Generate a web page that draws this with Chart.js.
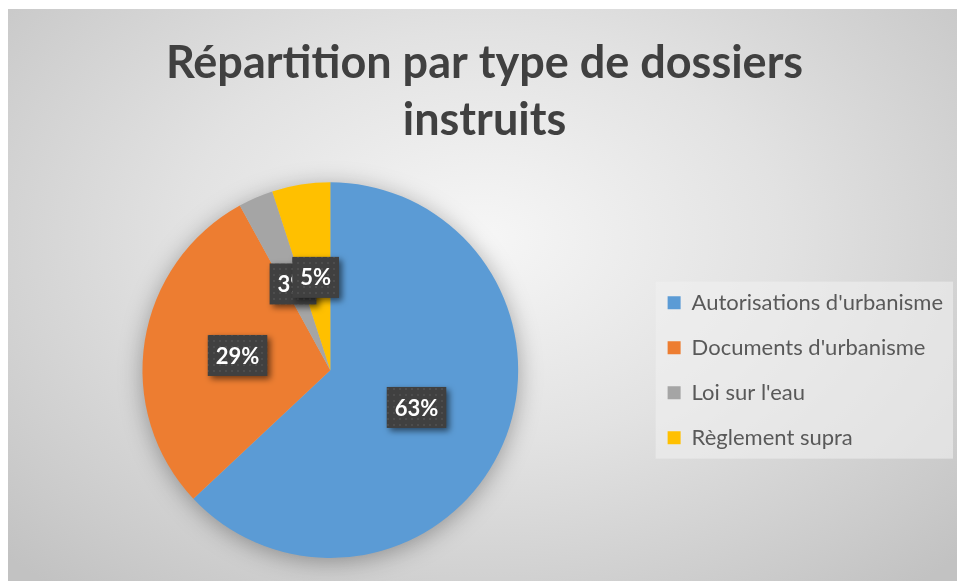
<!DOCTYPE html>
<html lang="fr">
<head>
<meta charset="UTF-8">
<title>Répartition par type de dossiers instruits</title>
<script src="https://cdn.jsdelivr.net/npm/chart.js@4"></script>
<style>
  html, body { margin: 0; padding: 0; background: #fff; }
  body { width: 957px; height: 581px; position: relative; overflow: hidden; }
  .frame {
    position: absolute; left: 8px; top: 9px; width: 949px; height: 572px;
    background: radial-gradient(ellipse 70% 80% at 50% 40%, #f6f6f6 0%, #e2e2e2 45%, #cbcbcb 85%, #c2c2c2 100%);
  }
</style>
</head>
<body>
<div class="frame"><canvas id="pie"></canvas></div>
<script>
const categories = ["Autorisations d'urbanisme", "Documents d'urbanisme", "Loi sur l'eau", "Règlement supra"];
const shares = [63, 29, 3, 5];
const colors = ['#5b9bd5', '#ed7d31', '#a5a5a5', '#ffc000'];
const titleLines = ['Répartition par type de dossiers', 'instruits'];

// petit motif pointillé pour les étiquettes (comme dans Excel)
function dotPattern(ctx) {
  const c = document.createElement('canvas');
  c.width = 6; c.height = 6;
  const p = c.getContext('2d');
  p.fillStyle = '#404040';
  p.fillRect(0, 0, 6, 6);
  p.fillStyle = '#4d4d4d';
  p.fillRect(1, 1, 2, 2);
  return ctx.createPattern(c, 'repeat');
}

const pieShadow = {
  id: 'pieShadow',
  beforeDatasetsDraw(chart) {
    const arc = chart.getDatasetMeta(0).data[0];
    if (!arc) return;
    const ctx = chart.ctx;
    ctx.save();
    ctx.shadowColor = 'rgba(0,0,0,0.35)';
    ctx.shadowBlur = 24;
    ctx.shadowOffsetY = 4;
    ctx.fillStyle = '#bbbbbb';
    ctx.beginPath();
    ctx.arc(arc.x, arc.y, arc.outerRadius - 1, 0, Math.PI * 2);
    ctx.fill();
    ctx.restore();
  }
};

// fond clair derrière la légende
const legendBox = {
  id: 'legendBox',
  beforeDraw(chart) {
    const l = chart.legend;
    const hb = l.legendHitBoxes;
    if (!hb || !hb.length) return;
    const left = Math.min(...hb.map(b => b.left)) - 12;
    const top = Math.min(...hb.map(b => b.top)) - 10;
    const bottom = Math.max(...hb.map(b => b.top + b.height)) + 10;
    const right = l.right;
    const ctx = chart.ctx;
    ctx.save();
    ctx.fillStyle = 'rgba(240,240,240,0.6)';
    ctx.fillRect(left, top, right - left, bottom - top);
    ctx.restore();
  }
};

const sliceLabels = {
  id: 'sliceLabels',
  afterDatasetsDraw(chart) {
    const ctx = chart.ctx;
    const meta = chart.getDatasetMeta(0);
    const pat = dotPattern(ctx);
    ctx.save();
    ctx.font = 'bold 22px Lato';
    ctx.textAlign = 'center';
    ctx.textBaseline = 'middle';
    meta.data.forEach((arc, i) => {
      const pos = arc.tooltipPosition();
      const txt = shares[i] + '%';
      const w = ctx.measureText(txt).width + 16;
      const h = 41;
      const x = pos.x - w / 2, y = pos.y - h / 2;
      ctx.save();
      ctx.shadowColor = 'rgba(0,0,0,0.55)';
      ctx.shadowBlur = 6;
      ctx.shadowOffsetX = 3;
      ctx.shadowOffsetY = 3;
      ctx.fillStyle = pat;
      ctx.fillRect(x, y, w, h);
      ctx.restore();
      ctx.fillStyle = '#ffffff';
      ctx.fillText(txt, pos.x, pos.y + 1);
    });
    ctx.restore();
  }
};

new Chart(document.getElementById('pie'), {
  type: 'pie',
  data: {
    labels: categories,
    datasets: [{
      data: shares,
      backgroundColor: colors,
      borderWidth: 0
    }]
  },
  options: {
    responsive: true,
    maintainAspectRatio: false,
    animation: false,
    layout: { padding: { left: 8, right: 4, top: 0, bottom: 23 } },
    plugins: {
      title: {
        display: true,
        text: titleLines,
        color: '#404040',
        font: { family: 'Lato', size: 45, weight: 'bold', lineHeight: 1.27 },
        padding: { top: 26, bottom: 33 }
      },
      legend: {
        position: 'right',
        fullSize: false,
        labels: {
          color: '#595959',
          font: { family: 'Lato', size: 22 },
          boxWidth: 13,
          boxHeight: 13,
          padding: 23
        }
      },
      tooltip: { enabled: false }
    }
  },
  plugins: [pieShadow, legendBox, sliceLabels]
});
</script>
</body>
</html>
